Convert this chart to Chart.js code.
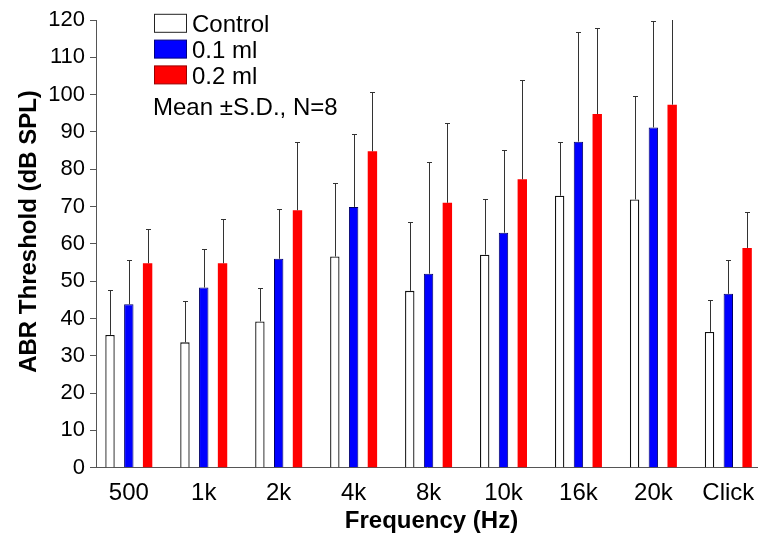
<!DOCTYPE html>
<html><head><meta charset="utf-8">
<script src="https://cdn.jsdelivr.net/npm/chart.js@4/dist/chart.umd.min.js"></script>
<style>html,body{margin:0;padding:0;background:#fff;overflow:hidden}#wrap{width:758px;height:540px;position:relative}</style>
</head><body><div id="wrap"><canvas id="c" width="758" height="540"></canvas></div>
<script>
const categories = ['500', '1k', '2k', '4k', '8k', '10k', '16k', '20k', 'Click'];
const seriesNames = ['Control', '0.1 ml', '0.2 ml'];
const controlMean = [35.6, 33.6, 39.2, 56.6, 47.4, 57.1, 72.9, 71.9, 36.4];
const controlSD   = [12.1, 11.1, 8.9, 19.6, 18.4, 15.0, 14.4, 27.7, 8.5];
const dose01Mean  = [43.8, 48.3, 56.0, 69.9, 52.0, 63.0, 87.4, 91.2, 46.6];
const dose01SD    = [11.9, 10.4, 13.4, 19.5, 29.9, 22.1, 29.4, 28.5, 9.2];
const dose02Mean  = [54.8, 54.8, 69.0, 84.8, 71.0, 77.3, 94.8, 97.3, 58.9];
const dose02SD    = [9.3, 11.8, 18.4, 15.9, 21.5, 26.7, 23.0, 28.0, 9.7];
const yTicks = [0, 10, 20, 30, 40, 50, 60, 70, 80, 90, 100, 110, 120];
const xTitle = 'Frequency (Hz)';
const yTitle = 'ABR Threshold (dB SPL)';
const note = 'Mean \u00B1S.D., N=8';

const FONT = '"Liberation Sans", Arial, sans-serif';
const toPts = arr => arr.map((v, i) => ({x: i, y: v}));

const errorBars = {
  id: 'errorBars',
  afterDatasetsDraw(chart) {
    const ctx = chart.ctx, ya = chart.scales.y, a = chart.chartArea;
    ctx.save();
    ctx.beginPath();
    ctx.rect(a.left, a.top, a.right - a.left, a.bottom - a.top);
    ctx.clip();
    ctx.strokeStyle = '#333';
    ctx.lineWidth = 1;
    chart.data.datasets.forEach((ds, di) => {
      const meta = chart.getDatasetMeta(di);
      meta.data.forEach((bar, i) => {
        const m = ds.data[i].y, sd = ds.sd[i];
        const x = Math.round(bar.x) + 0.5;
        const y0 = ya.getPixelForValue(m);
        const y1 = Math.round(ya.getPixelForValue(m + sd)) + 0.5;
        ctx.beginPath();
        ctx.moveTo(x, y0); ctx.lineTo(x, y1);
        ctx.moveTo(x - 2.5, y1); ctx.lineTo(x + 2.5, y1);
        ctx.stroke();
      });
    });
    ctx.restore();
  }
};

const decorations = {
  id: 'decorations',
  afterDraw(chart) {
    const ctx = chart.ctx;
    ctx.save();
    ctx.fillStyle = '#000';
    // legend
    ctx.font = '24px ' + FONT;
    ctx.textAlign = 'left';
    ctx.textBaseline = 'alphabetic';
    chart.data.datasets.forEach((ds, k) => {
      const base = 32.3 + k * 25.8;
      ctx.fillStyle = ds.backgroundColor;
      ctx.fillRect(154.5, base - 18, 32, 18);
      ctx.strokeStyle = ds.legendBorder;
      ctx.lineWidth = 1;
      ctx.strokeRect(154.5, base - 18, 32, 18);
      ctx.fillStyle = '#000';
      ctx.fillText(ds.label, 192, base);
    });
    ctx.fillText(note, 153, 115);
    // axis titles
    ctx.font = 'bold 24px ' + FONT;
    ctx.textAlign = 'center';
    ctx.fillText(xTitle, 431.5, 528);
    ctx.translate(36, 231.5);
    ctx.rotate(-Math.PI / 2);
    ctx.fillText(yTitle, 0, 0);
    ctx.restore();
  }
};

new Chart(document.getElementById('c'), {
  type: 'bar',
  data: {
    datasets: [
      {label: seriesNames[0], data: toPts(controlMean), sd: controlSD, backgroundColor: '#ffffff', borderColor: '#111', borderWidth: 1.3, legendBorder: '#222'},
      {label: seriesNames[1], data: toPts(dose01Mean), sd: dose01SD, backgroundColor: '#0000ff', borderColor: '#000066', borderWidth: 1, legendBorder: '#000080'},
      {label: seriesNames[2], data: toPts(dose02Mean), sd: dose02SD, backgroundColor: '#ff0000', borderColor: '#ff0000', borderWidth: 0, legendBorder: '#990000'}
    ]
  },
  options: {
    responsive: false,
    animation: false,
    devicePixelRatio: 1,
    categoryPercentage: 0.7526,
    barPercentage: 0.5,
    layout: {padding: {top: 20, right: 0, left: 0, bottom: 0}},
    plugins: {legend: {display: false}, tooltip: {enabled: false}},
    scales: {
      x: {
        type: 'linear',
        offset: false,
        min: -0.4377,
        max: 8.396,
        afterBuildTicks: s => { s.ticks = categories.map((_, i) => ({value: i})); },
        afterFit: s => { s.height = 72.3; },
        grid: {display: false},
        border: {display: true, color: '#555', width: 1},
        ticks: {
          autoSkip: false, maxRotation: 0, minRotation: 0, padding: 3,
          color: '#000', font: {family: FONT, size: 24},
          callback: v => categories[v]
        }
      },
      y: {
        min: 0, max: 120,
        afterBuildTicks: s => { s.ticks = yTicks.map(v => ({value: v})); },
        afterFit: s => { s.width = 96; },
        grid: {display: true, drawOnChartArea: false, drawTicks: true, tickLength: 6, color: '#555'},
        border: {display: true, color: '#555', width: 1},
        ticks: {padding: 5, color: '#000', font: {family: FONT, size: 22}}
      }
    }
  },
  plugins: [errorBars, decorations]
});
</script></body></html>
